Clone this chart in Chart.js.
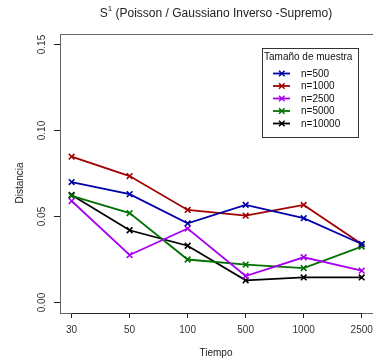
<!DOCTYPE html>
<html>
<head>
<meta charset="utf-8">
<script src="https://cdn.jsdelivr.net/npm/chart.js@4"></script>
<style>
  html, body { margin: 0; padding: 0; background: #fff; }
  #wrap { width: 373px; height: 362px; }
</style>
</head>
<body>
<div id="wrap"><canvas id="chart" width="373" height="362"></canvas></div>
<script>
const tiempos = ['30', '50', '100', '500', '1000', '2500'];
const yTicks = [0.00, 0.05, 0.10, 0.15];

const n500 = [0.070, 0.063, 0.046, 0.0567, 0.049, 0.034];
const n1000 = [0.0848, 0.0735, 0.0538, 0.0505, 0.0567, 0.034];
const n2500 = [0.059, 0.0276, 0.043, 0.0154, 0.0263, 0.0185];
const n5000 = [0.062, 0.052, 0.025, 0.022, 0.020, 0.0325];
const n10000 = [0.0625, 0.042, 0.033, 0.0129, 0.0146, 0.0146];

const seriesNames = ['n=500', 'n=1000', 'n=2500', 'n=5000', 'n=10000'];
const seriesValues = [n500, n1000, n2500, n5000, n10000];
const colors = ['#0000A8', '#A00000', '#A800F0', '#007000', '#000000'];

const FONT = '"Liberation Sans", Arial, sans-serif';

const datasets = seriesValues.map((vals, i) => ({
  label: seriesNames[i],
  data: vals.map((v, j) => ({ x: j, y: v })),
  borderColor: colors[i],
  backgroundColor: colors[i],
  borderWidth: 1.8,
  pointStyle: 'crossRot',
  pointRadius: 4,
  pointBorderWidth: 1.6,
  tension: 0,
  clip: false
}));

const rDecor = {
  id: 'rDecor',
  afterDraw(chart) {
    const ctx = chart.ctx;
    const a = chart.chartArea;
    const ys = chart.scales.y;
    const xs = chart.scales.x;
    ctx.save();
    // box
    ctx.strokeStyle = '#666';
    ctx.lineWidth = 1;
    ctx.strokeRect(a.left + 0.5, a.top + 0.5, a.right - a.left, a.bottom - a.top);
    // x axis line between first and last tick
    ctx.strokeStyle = '#222';
    ctx.beginPath();
    ctx.moveTo(xs.getPixelForValue(0), a.bottom + 0.5);
    ctx.lineTo(xs.getPixelForValue(tiempos.length - 1), a.bottom + 0.5);
    ctx.stroke();

    // x tick labels
    ctx.fillStyle = '#333';
    ctx.font = '10px ' + FONT;
    ctx.textAlign = 'center';
    ctx.textBaseline = 'middle';
    tiempos.forEach((t, i) => {
      ctx.fillText(t, xs.getPixelForValue(i), 330);
    });

    // y tick labels (rotated)
    yTicks.forEach(v => {
      const py = ys.getPixelForValue(v);
      ctx.save();
      ctx.translate(42, py);
      ctx.rotate(-Math.PI / 2);
      ctx.fillText(v.toFixed(2), 0, 0);
      ctx.restore();
    });

    // axis titles
    ctx.font = '10px ' + FONT;
    ctx.fillStyle = '#222';
    ctx.save();
    ctx.translate(20, 183);
    ctx.rotate(-Math.PI / 2);
    ctx.fillText('Distancia', 0, 0);
    ctx.restore();
    ctx.fillText('Tiempo', 216, 353);

    // main title
    ctx.font = '12px ' + FONT;
    ctx.textAlign = 'left';
    const main = ' (Poisson / Gaussiano Inverso -Supremo)';
    const wS = ctx.measureText('S').width;
    ctx.font = '8px ' + FONT;
    const wSup = ctx.measureText('1').width;
    ctx.font = '12px ' + FONT;
    const wMain = ctx.measureText(main).width;
    let x0 = 216 - (wS + wSup + wMain) / 2;
    ctx.fillText('S', x0, 14);
    ctx.font = '8px ' + FONT;
    ctx.fillText('1', x0 + wS, 9);
    ctx.font = '12px ' + FONT;
    ctx.fillText(main, x0 + wS + wSup, 14);

    // legend
    const lx = 262, ly = 48, lw = 96, lh = 89;
    ctx.fillStyle = '#fff';
    ctx.fillRect(lx, ly, lw, lh);
    ctx.strokeStyle = '#333';
    ctx.lineWidth = 1;
    ctx.strokeRect(lx + 0.5, ly + 0.5, lw, lh);
    ctx.fillStyle = '#111';
    ctx.font = '10px ' + FONT;
    ctx.textAlign = 'left';
    ctx.fillText('Tamaño de muestra', lx + 2, 57);
    chart.data.datasets.forEach((ds, i) => {
      const ry = 73.5 + i * 12.5;
      ctx.strokeStyle = ds.borderColor;
      ctx.lineWidth = 1.8;
      ctx.beginPath();
      ctx.moveTo(273, ry);
      ctx.lineTo(290, ry);
      ctx.stroke();
      ctx.lineWidth = 1.5;
      ctx.beginPath();
      ctx.moveTo(279, ry - 2.8); ctx.lineTo(284.6, ry + 2.8);
      ctx.moveTo(284.6, ry - 2.8); ctx.lineTo(279, ry + 2.8);
      ctx.stroke();
      ctx.fillStyle = '#111';
      ctx.fillText(ds.label, 301, ry + 0.5);
    });
    ctx.restore();
  }
};

new Chart(document.getElementById('chart'), {
  type: 'line',
  data: { datasets },
  options: {
    responsive: false,
    animation: false,
    layout: { autoPadding: false, padding: { top: 34, right: 0, left: 0, bottom: 0 } },
    plugins: { legend: { display: false }, tooltip: { enabled: false }, title: { display: false } },
    scales: {
      x: {
        type: 'linear',
        min: -0.2,
        max: 5.195,
        afterFit: s => { s.height = 49; },
        afterBuildTicks: s => { s.ticks = tiempos.map((t, i) => ({ value: i })); },
        grid: { drawOnChartArea: false, drawTicks: true, tickLength: 5, color: '#222', tickWidth: 1 },
        border: { display: false },
        ticks: { display: false }
      },
      y: {
        type: 'linear',
        min: -0.0061,
        max: 0.1561,
        afterFit: s => { s.width = 60; },
        afterBuildTicks: s => { s.ticks = yTicks.map(v => ({ value: v })); },
        grid: { drawOnChartArea: false, drawTicks: true, tickLength: 6, color: '#222', tickWidth: 1 },
        border: { display: false },
        ticks: { display: false }
      }
    }
  },
  plugins: [rDecor]
});
</script>
</body>
</html>
